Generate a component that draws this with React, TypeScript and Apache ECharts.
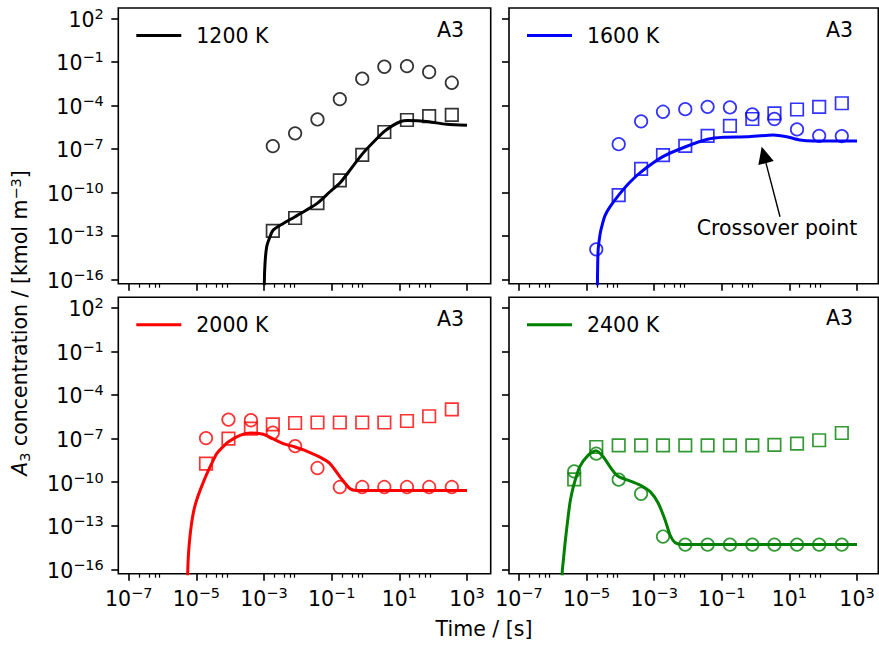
import React, { useEffect, useRef } from "react";
import * as echarts from "echarts";

const FONT = "DejaVu Sans";
const FS = 20.5;

// Sampling times of the markers (s)
const obsTimes = [4.3e-6, 1.93e-5, 8.9e-5, 4.1e-4, 1.82e-3, 8.3e-3, 3.8e-2, 0.174, 0.8, 3.6, 16.8, 76, 355];

// 1200 K
const t1200Line = [1.0e-3, 1.02e-3, 1.07e-3, 1.2e-3, 1.5e-3, 1.86e-3, 3.7e-3, 8.3e-3, 1.8e-2, 3.9e-2, 8.9e-2, 0.178, 0.38, 0.81, 1.78, 3.6, 6.3, 10.5, 17, 35, 76, 250, 1000];
const c1200Line = [1e-20, 5e-17, 1.26e-15, 1.8e-14, 8.7e-14, 2.5e-13, 7.2e-13, 2.1e-12, 6.0e-12, 1.9e-11, 1.1e-10, 4.6e-10, 4.5e-9, 4.5e-8, 3.2e-7, 1.6e-6, 4.0e-6, 7.4e-6, 8.9e-6, 8.7e-6, 7.4e-6, 4.9e-6, 4.2e-6];
const c1200Circles = [1.55e-7, 1.17e-6, 1.07e-5, 2.7e-4, 6.9e-3, 4.6e-2, 5.1e-2, 2.0e-2, 3.6e-3];
const c1200Squares = [2.2e-13, 1.7e-12, 1.8e-11, 6.8e-10, 3.9e-8, 1.45e-6, 9.8e-6, 1.8e-5, 2.2e-5];

// 1600 K
const t1600Line = [2.04e-5, 2.09e-5, 2.19e-5, 2.5e-5, 2.8e-5, 3.5e-5, 4.9e-5, 8.9e-5, 1.9e-4, 4.1e-4, 1.8e-3, 8.5e-3, 3.8e-2, 0.112, 0.55, 3.3, 8.3, 20.4, 51, 200, 1000];
const c1600Line = [1e-20, 5e-17, 1e-14, 1.26e-13, 4.3e-13, 2.5e-12, 1.0e-11, 6.5e-11, 5e-10, 2.6e-9, 2.9e-8, 1.4e-7, 4.6e-7, 6.3e-7, 6.8e-7, 8.9e-7, 6.8e-7, 4.1e-7, 3.5e-7, 3.5e-7, 3.5e-7];
const c1600Circles = [1.17e-14, 2.1e-7, 7.9e-6, 3.6e-5, 5.5e-5, 7.9e-5, 7.2e-5, 2.4e-5, 1.15e-5, 2.2e-6, 7.9e-7, 7.6e-7];
const c1600Squares = [6.5e-11, 4.1e-9, 3.7e-8, 1.6e-7, 7.9e-7, 3.9e-6, 1.15e-5, 2.8e-5, 5.2e-5, 7.9e-5, 1.4e-4];

// 2000 K
const t2000Line = [5.4e-6, 5.55e-6, 5.8e-6, 6.2e-6, 6.8e-6, 7.6e-6, 8.7e-6, 1.05e-5, 1.29e-5, 1.58e-5, 1.95e-5, 2.8e-5, 4.0e-5, 5.9e-5, 8.7e-5, 1.95e-4, 4.1e-4, 9.5e-4, 1.8e-3, 3.7e-3, 8.3e-3, 1.8e-2, 4.5e-2, 8.9e-2, 0.178, 0.35, 0.55, 1000];
const c2000Line = [1e-20, 5e-17, 7.9e-16, 6.3e-15, 5e-14, 3.2e-13, 1.58e-12, 7.1e-12, 2.7e-11, 8.9e-11, 2.9e-10, 1.78e-9, 9.1e-9, 2.5e-8, 5.8e-8, 1.66e-7, 2.4e-7, 1.95e-7, 9.8e-8, 4.5e-8, 2.6e-8, 1.38e-8, 5.2e-9, 1.86e-9, 2.2e-10, 3.5e-11, 2.7e-11, 2.7e-11];
const c2000Circles = [1.07e-7, 2.0e-6, 1.8e-6, 2.5e-7, 3.0e-8, 9.3e-10, 4.6e-11, 4.6e-11, 4.6e-11, 4.6e-11, 4.6e-11, 4.6e-11];
const c2000Squares = [1.86e-9, 9.8e-8, 4.8e-7, 9.5e-7, 1.17e-6, 1.26e-6, 1.26e-6, 1.26e-6, 1.26e-6, 1.6e-6, 3.4e-6, 1.0e-5];

// 2400 K
const t2400Line = [1.82e-6, 1.9e-6, 2.09e-6, 2.3e-6, 2.7e-6, 3.2e-6, 3.7e-6, 4.3e-6, 6.3e-6, 1.12e-5, 1.9e-5, 3.1e-5, 4.9e-5, 6.9e-5, 9.8e-5, 1.9e-4, 3.8e-4, 7.6e-4, 1.32e-3, 2.1e-3, 2.95e-3, 4.2e-3, 7.2e-3, 1000];
const c2400Line = [1e-20, 6e-17, 6.3e-16, 6.2e-15, 1.58e-13, 3.5e-12, 2.0e-11, 8.1e-11, 1.15e-9, 7.2e-9, 1.45e-8, 5.6e-9, 1.15e-9, 4.0e-10, 2.1e-10, 1.23e-10, 6.3e-11, 2.2e-11, 3.5e-12, 2.5e-13, 2.3e-14, 6.8e-15, 5.2e-15, 5.2e-15];
const c2400Circles = [5.5e-10, 9.1e-9, 1.48e-10, 1.58e-11, 1.8e-14, 5.0e-15, 5.0e-15, 5.0e-15, 5.0e-15, 5.0e-15, 5.0e-15, 5.0e-15, 5.0e-15];
const c2400Squares = [1.55e-10, 2.6e-8, 3.4e-8, 3.4e-8, 3.4e-8, 3.4e-8, 3.4e-8, 3.4e-8, 3.4e-8, 3.6e-8, 4.5e-8, 7.6e-8, 2.4e-7];

// Tick exponents
const xMajorExp = [-7, -5, -3, -1, 1, 3];
const xMinorDecades = [-7, -5, -3, -1, 1];
const xMinorFactors = [2, 4, 6, 8];
const yMajorExp = [-16, -13, -10, -7, -4, -1, 2];

const panels = [
  { name: "1200 K", color: "#000000", lineT: t1200Line, lineC: c1200Line, circleFrom: 4, circles: c1200Circles, squareFrom: 4, squares: c1200Squares },
  { name: "1600 K", color: "#0000ff", lineT: t1600Line, lineC: c1600Line, circleFrom: 1, circles: c1600Circles, squareFrom: 2, squares: c1600Squares },
  { name: "2000 K", color: "#ff0000", lineT: t2000Line, lineC: c2000Line, circleFrom: 1, circles: c2000Circles, squareFrom: 1, squares: c2000Squares },
  { name: "2400 K", color: "#008000", lineT: t2400Line, lineC: c2400Line, circleFrom: 0, circles: c2400Circles, squareFrom: 0, squares: c2400Squares },
];

const grids = [
  { left: 118.3, top: 8, width: 372.4, height: 275.7 },
  { left: 509, top: 8, width: 369.3, height: 275.7 },
  { left: 118.3, top: 297.3, width: 372.4, height: 276.4 },
  { left: 509, top: 297.3, width: 369.3, height: 276.4 },
];
const xRange = [
  [-7.307, 3.70],
  [-7.296, 3.63],
];
const yRange = [-16.3, 2.715];

const tickRich = {
  b: { fontSize: FS, fontFamily: FONT, color: "#000", lineHeight: 24, verticalAlign: "bottom" },
  s: { fontSize: 14.5, fontFamily: FONT, color: "#000", lineHeight: 16, verticalAlign: "top" },
};
const fmtPow = (v: number) => {
  const n = Math.round(v);
  return `{b|10}{s|${n < 0 ? "\u2212" : ""}${Math.abs(n)}}`;
};

export default function App() {
  const ref = useRef<HTMLDivElement>(null);
  useEffect(() => {
    if (!ref.current) return;
    const chart = echarts.init(ref.current, undefined, { renderer: "svg" });
    const minorX: number[] = [];
    xMinorDecades.forEach((d) => xMinorFactors.forEach((f) => minorX.push(d + Math.log10(f))));

    const xAxis: any[] = [];
    const yAxis: any[] = [];
    const series: any[] = [];
    const legend: any[] = [];
    panels.forEach((p, i) => {
      const col = i % 2;
      const row = Math.floor(i / 2);
      const g = grids[i];
      xAxis.push({
        gridIndex: i, type: "value", position: "bottom", min: xRange[col][0], max: xRange[col][1],
        axisLine: { show: false, onZero: false }, splitLine: { show: false },
        axisTick: { show: true, customValues: xMajorExp, length: 7, lineStyle: { color: "#000", width: 1.6 } },
        axisLabel: { show: row === 1, customValues: xMajorExp, formatter: fmtPow, rich: tickRich, margin: 12, fontSize: FS, fontFamily: FONT, color: "#000" },
      });
      xAxis.push({
        gridIndex: i, type: "value", position: "bottom", min: xRange[col][0], max: xRange[col][1],
        axisLine: { show: false, onZero: false }, splitLine: { show: false },
        axisTick: { show: true, customValues: minorX, length: 4, lineStyle: { color: "#000", width: 1.2 } },
        axisLabel: { show: false },
      });
      yAxis.push({
        gridIndex: i, type: "value", position: "left", min: yRange[0], max: yRange[1],
        axisLine: { show: false, onZero: false }, splitLine: { show: false },
        axisTick: { show: true, customValues: yMajorExp, length: 7, lineStyle: { color: "#000", width: 1.6 } },
        axisLabel: { show: col === 0, customValues: yMajorExp, formatter: fmtPow, rich: tickRich, margin: 14.5, fontSize: FS, fontFamily: FONT, color: "#000" },
      });
      series.push({
        type: "line", name: p.name, xAxisIndex: 2 * i, yAxisIndex: i,
        data: p.lineT.map((t, k) => [Math.log10(t), Math.log10(p.lineC[k])]),
        showSymbol: false, symbol: "none", smooth: 0.25, clip: true,
        color: p.color, lineStyle: { width: 3, color: p.color }, itemStyle: { color: p.color },
        silent: true, z: 2,
      });
      series.push({
        type: "scatter", name: p.name + " circles", xAxisIndex: 2 * i, yAxisIndex: i,
        symbol: "circle", symbolSize: 12.5,
        data: p.circles.map((c, k) => [Math.log10(obsTimes[p.circleFrom + k]), Math.log10(c)]),
        itemStyle: { color: "rgba(0,0,0,0)", borderColor: p.color, borderWidth: 1.7 },
        silent: true, z: 3,
      });
      series.push({
        type: "scatter", name: p.name + " squares", xAxisIndex: 2 * i, yAxisIndex: i,
        symbol: "rect", symbolSize: 12.5,
        data: p.squares.map((c, k) => [Math.log10(obsTimes[p.squareFrom + k]), Math.log10(c)]),
        itemStyle: { color: "rgba(0,0,0,0)", borderColor: p.color, borderWidth: 1.7 },
        silent: true, z: 3,
      });
      legend.push({
        data: [p.name], left: g.left + 18, top: g.top + 15.5, padding: 0,
        icon: "rect", itemWidth: 45, itemHeight: 3, selectedMode: false,
        textStyle: { fontSize: FS, fontFamily: FONT, color: "#000", lineHeight: 24, padding: [0, 0, 0, 10] },
      });
    });

    const txt = (text: string, x: number, y: number, align = "left") => ({
      type: "text", x, y, silent: true,
      style: { text, fontSize: FS, fontFamily: FONT, fill: "#000", align, verticalAlign: "middle" },
    });

    const graphic: any[] = [
      txt("A3", 437, 29.5),
      txt("A3", 826, 29.5),
      txt("A3", 437, 319),
      txt("A3", 826, 318),
      txt("Crossover point", 777, 228, "center"),
      { type: "line", silent: true, shape: { x1: 780, y1: 216.7, x2: 766, y2: 163.1 }, style: { stroke: "#000", lineWidth: 1.4 } },
      { type: "polygon", silent: true, shape: { points: [[761.7, 146.7], [773.7, 161.1], [758.3, 165.1]] }, style: { fill: "#000" } },
      txt("Time / [s]", 484, 629, "center"),
      {
        type: "text", x: 20, y: 323, rotation: Math.PI / 2, silent: true,
        style: {
          text: "{i|A}{sub|3}{n| concentration / [kmol m}{sup|\u22123}{n|]}",
          align: "center", verticalAlign: "middle", fill: "#000",
          rich: {
            i: { fontSize: FS, fontFamily: FONT, fontStyle: "italic", lineHeight: 24, verticalAlign: "middle", fill: "#000" },
            n: { fontSize: FS, fontFamily: FONT, lineHeight: 24, verticalAlign: "middle", fill: "#000" },
            sub: { fontSize: 14.5, fontFamily: FONT, lineHeight: 18, verticalAlign: "bottom", fill: "#000" },
            sup: { fontSize: 14.5, fontFamily: FONT, lineHeight: 20, verticalAlign: "top", fill: "#000" },
          },
        },
      },
    ];

    chart.setOption({
      animation: false,
      backgroundColor: "#ffffff",
      grid: grids.map((g) => ({ ...g, show: true, borderColor: "#000", borderWidth: 1.6, backgroundColor: "rgba(0,0,0,0)" })),
      xAxis, yAxis, series, legend, graphic,
    });
    return () => chart.dispose();
  }, []);
  return <div ref={ref} style={{ position: "fixed", left: 0, top: 0, width: 879, height: 646 }} />;
}
